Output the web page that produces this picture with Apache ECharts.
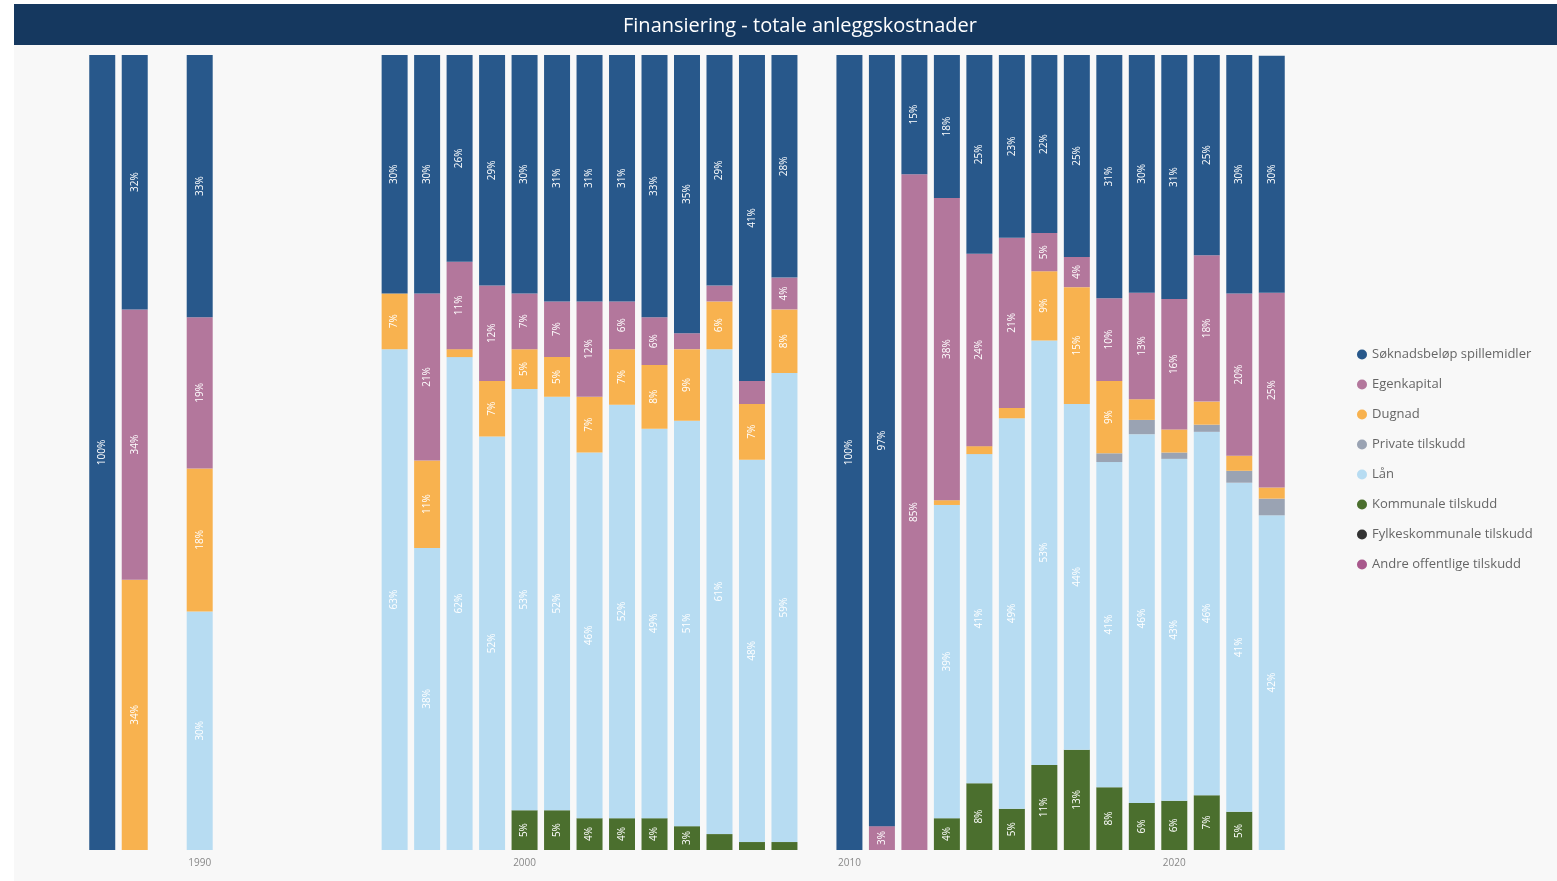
<!DOCTYPE html>
<html>
<head>
<meta charset="utf-8">
<script src="https://cdn.jsdelivr.net/npm/echarts@6/dist/echarts.min.js"></script>
<style>
html,body{margin:0;padding:0;background:#ffffff;}
#chart{width:1557px;height:881px;}
</style>
</head>
<body>
<div id="chart"></div>
<script>
// Years (category axis, including empty years)
const years = [];
for (let y = 1987; y <= 2023; y++) years.push(String(y));

// Percent shares per year (missing = no value)
const soknad = {1987:100,1988:32,1990:33,1996:30,1997:30,1998:26,1999:29,2000:30,2001:31,2002:31,2003:31,2004:33,2005:35,2006:29,2007:41,2008:28,2010:100,2011:97,2012:15,2013:18,2014:25,2015:23,2016:22.4,2017:25.4,2018:30.6,2019:29.9,2020:30.8,2021:25.3,2022:30,2023:29.8};
const egenkapital = {1988:34,1990:19,1997:21,1998:11,1999:12,2000:7,2001:7,2002:12,2003:6,2004:6,2005:2,2006:2,2007:2.9,2008:4,2011:3,2012:85,2013:38,2014:24.2,2015:21.4,2016:4.8,2017:3.8,2018:10.4,2019:13.4,2020:16.4,2021:18.4,2022:20.4,2023:24.5};
const dugnad = {1988:34,1990:18,1996:7,1997:11,1998:1,1999:7,2000:5,2001:5,2002:7,2003:7,2004:8,2005:9,2006:6,2007:7,2008:8,2013:0.6,2014:1,2015:1.3,2016:8.7,2017:14.7,2018:9.1,2019:2.6,2020:2.9,2021:2.9,2022:1.9,2023:1.4};
const privateT = {2018:1.1,2019:1.8,2020:0.8,2021:0.9,2022:1.5,2023:2.1};
const laan = {1990:30,1996:63,1997:38,1998:62,1999:52,2000:53,2001:52,2002:46,2003:52,2004:49,2005:51,2006:61,2007:48.1,2008:59,2013:39.4,2014:41.4,2015:49.1,2016:53.4,2017:43.5,2018:40.9,2019:46.4,2020:43,2021:45.7,2022:41.4,2023:42.1};
const kommunale = {2000:5,2001:5,2002:4,2003:4,2004:4,2005:3,2006:2,2007:1,2008:1,2013:4,2014:8.4,2015:5.2,2016:10.7,2017:12.6,2018:7.9,2019:5.9,2020:6.2,2021:6.9,2022:4.8};
const fylkes = {};
const andre = {};

const seriesDefs = [
  // bottom to top
  {name:'Andre offentlige tilskudd', data:andre, color:'#a8588c'},
  {name:'Fylkeskommunale tilskudd', data:fylkes, color:'#333333'},
  {name:'Kommunale tilskudd', data:kommunale, color:'#4b6f2e'},
  {name:'Lån', data:laan, color:'#b7dcf2'},
  {name:'Private tilskudd', data:privateT, color:'#9aa3b3'},
  {name:'Dugnad', data:dugnad, color:'#f8b24f'},
  {name:'Egenkapital', data:egenkapital, color:'#b3779c'},
  {name:'Søknadsbeløp spillemidler', data:soknad, color:'#28588b'}
];
const legendOrder = ['Søknadsbeløp spillemidler','Egenkapital','Dugnad','Private tilskudd','Lån','Kommunale tilskudd','Fylkeskommunale tilskudd','Andre offentlige tilskudd'];

const chart = echarts.init(document.getElementById('chart'));
const series = seriesDefs.map(s => ({
  name: s.name,
  type: 'bar',
  stack: 'total',
  barWidth: '80%',
  itemStyle: {color: s.color},
  label: {
    show: true,
    position: 'inside',
    rotate: 90,
    fontSize: 10,
    fontFamily: 'Open Sans',
    color: '#ffffff',
    formatter: p => (p.value != null && p.value >= 3) ? Math.round(p.value) + '%' : ''
  },
  data: years.map(y => (s.data[y] != null ? s.data[y] : null))
}));

chart.setOption({
  backgroundColor: '#ffffff',
  graphic: [
    {type:'rect', shape:{x:14, y:45, width:1543, height:836}, style:{fill:'#f8f8f8'}, z:-10},
    {type:'rect', shape:{x:14, y:4, width:1543, height:41}, style:{fill:'#15385f'}, z:-5}
  ],
  title: {
    text: 'Finansiering - totale anleggskostnader',
    left: 795, top: 11, textAlign: 'center',
    textStyle: {color:'#ffffff', fontSize:20, fontWeight:'normal', fontFamily:'Open Sans'}
  },
  legend: {
    data: legendOrder,
    orient: 'vertical',
    left: 1352, top: 343,
    icon: 'circle',
    itemWidth: 10, itemHeight: 10,
    itemGap: 17,
    textStyle: {color:'#666666', fontSize:13, fontFamily:'Open Sans'}
  },
  grid: {left: 86, right: 269, top: 55, bottom: 31, containLabel: false},
  xAxis: {
    type: 'category',
    data: years,
    axisLine: {show:false},
    axisTick: {show:false},
    axisLabel: {
      interval: 0,
      color: '#888888', fontSize: 10, fontFamily: 'Open Sans', margin: 8,
      formatter: v => (Number(v) % 10 === 0 ? v : '')
    }
  },
  yAxis: {
    type: 'value', min: 0, max: 100, show: false,
    splitLine: {show:false}
  },
  series: series
});
</script>
</body>
</html>
